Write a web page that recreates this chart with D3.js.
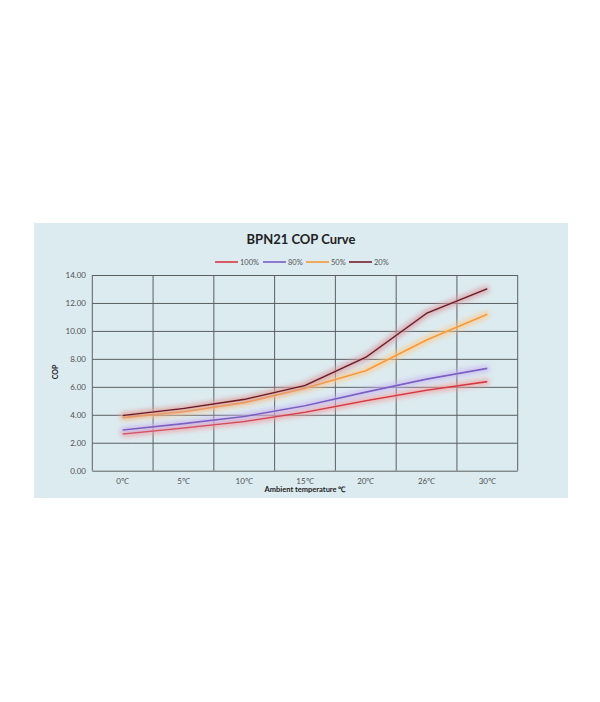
<!DOCTYPE html>
<html>
<head>
<meta charset="utf-8">
<script src="https://cdn.jsdelivr.net/npm/d3@7"></script>
<style>
  body { margin: 0; background: #fff; }
  text { font-family: Lato, "Open Sans", sans-serif; }
</style>
</head>
<body>
<div id="chart"></div>
<script>
// Data
let categories = ["0℃", "5℃", "10℃", "15℃", "20℃", "26℃", "30℃"];
let seriesNames = ["100%", "80%", "50%", "20%"];
let cop100 = [2.62, 3.05, 3.52, 4.18, 5.00, 5.75, 6.37];
let cop80 = [2.91, 3.37, 3.88, 4.65, 5.62, 6.55, 7.32];
let cop50 = [3.80, 4.22, 4.87, 5.90, 7.15, 9.35, 11.19];
let cop20 = [3.95, 4.45, 5.10, 6.10, 8.11, 11.26, 13.02];
let yTicks = [0, 2, 4, 6, 8, 10, 12, 14];

let colors = ["#d8373f", "#7a5ec4", "#f79a35", "#741d2b"];
let glowColors = ["#f29a9a", "#c7b3ee", "#fbc98c", "#d99aa0"];
let allSeries = [cop100, cop80, cop50, cop20];

let svgWidth = 600, svgHeight = 702;
let plot = { left: 92.3, right: 517.7, top: 275, bottom: 470.7 };

let svg = d3.select("#chart")
  .append("svg")
  .attr("width", svgWidth)
  .attr("height", svgHeight);

// glow filters round the lines
let defs = svg.append("defs");
colors.forEach(function(c, i) {
  let f = defs.append("filter")
    .attr("id", "glow" + i)
    .attr("x", "-10%").attr("y", "-50%")
    .attr("width", "120%").attr("height", "200%");
  f.append("feMorphology").attr("in", "SourceAlpha").attr("operator", "dilate").attr("radius", 1.8).attr("result", "thick");
  f.append("feFlood").attr("flood-color", glowColors[i]).attr("flood-opacity", 0.75);
  f.append("feComposite").attr("in2", "thick").attr("operator", "in");
  f.append("feGaussianBlur").attr("stdDeviation", 2.6).attr("result", "blur");
  let m = f.append("feMerge");
  m.append("feMergeNode").attr("in", "blur");
  m.append("feMergeNode").attr("in", "SourceGraphic");
});

// background panel
svg.append("rect")
  .attr("x", 34).attr("y", 223)
  .attr("width", 534).attr("height", 275)
  .attr("fill", "#dcebf0");

let xScale = d3.scaleBand()
  .domain(categories)
  .range([plot.left, plot.right])
  .padding(0);

let yScale = d3.scaleLinear()
  .domain([0, 14])
  .range([plot.bottom, plot.top]);

// grid lines
let gridH = svg.append("g")
  .attr("transform", `translate(${plot.left},0)`)
  .call(d3.axisLeft(yScale).tickValues(yTicks).tickSize(-(plot.right - plot.left)).tickFormat(""));
gridH.select(".domain").remove();
gridH.selectAll("line").attr("stroke", "#5a5f62").attr("stroke-width", 1);

let bounds = categories.map(c => xScale(c)).concat([plot.right]);
svg.append("g").selectAll("line")
  .data(bounds)
  .enter()
  .append("line")
  .attr("x1", d => d).attr("x2", d => d)
  .attr("y1", plot.top).attr("y2", plot.bottom)
  .attr("stroke", "#5a5f62")
  .attr("stroke-width", 1);

// y tick labels
svg.append("g").selectAll("text")
  .data(yTicks)
  .enter()
  .append("text")
  .attr("x", 86)
  .attr("y", d => yScale(d) + 2.8)
  .attr("text-anchor", "end")
  .attr("font-size", 8)
  .attr("fill", "#505050")
  .text(d => d3.format(".2f")(d));

// x tick labels
svg.append("g").selectAll("text")
  .data(categories)
  .enter()
  .append("text")
  .attr("x", d => xScale(d) + xScale.bandwidth() / 2)
  .attr("y", 484)
  .attr("text-anchor", "middle")
  .attr("font-size", 8)
  .attr("fill", "#505050")
  .text(d => d);

// lines
let line = d3.line()
  .x((d, i) => xScale(categories[i]) + xScale.bandwidth() / 2)
  .y(d => yScale(d));

allSeries.forEach(function(s, i) {
  svg.append("path")
    .datum(s)
    .attr("d", line)
    .attr("fill", "none")
    .attr("stroke", colors[i])
    .attr("stroke-width", 1.6)
    .attr("stroke-linejoin", "round")
    .attr("filter", `url(#glow${i})`);
});

// title
svg.append("text")
  .attr("x", 301)
  .attr("y", 244)
  .attr("text-anchor", "middle")
  .attr("font-size", 13)
  .attr("font-weight", "bold")
  .attr("fill", "#222")
  .text("BPN21 COP Curve");

// legend
let legendX = [215, 263, 306, 349];
let legend = svg.append("g");
seriesNames.forEach(function(name, i) {
  legend.append("line")
    .attr("x1", legendX[i]).attr("x2", legendX[i] + 23)
    .attr("y1", 262).attr("y2", 262)
    .attr("stroke", colors[i])
    .attr("stroke-width", 1.6);
  legend.append("text")
    .attr("x", legendX[i] + 25)
    .attr("y", 264.7)
    .attr("font-size", 7.5)
    .attr("fill", "#555")
    .text(name);
});

// axis titles
svg.append("text")
  .attr("transform", "translate(58, 372) rotate(-90)")
  .attr("text-anchor", "middle")
  .attr("font-size", 7)
  .attr("font-weight", "bold")
  .attr("fill", "#222")
  .text("COP");

svg.append("text")
  .attr("x", 305)
  .attr("y", 492)
  .attr("text-anchor", "middle")
  .attr("font-size", 7.5)
  .attr("font-weight", "bold")
  .attr("fill", "#222")
  .text("Ambient temperature ℃");
</script>
</body>
</html>
